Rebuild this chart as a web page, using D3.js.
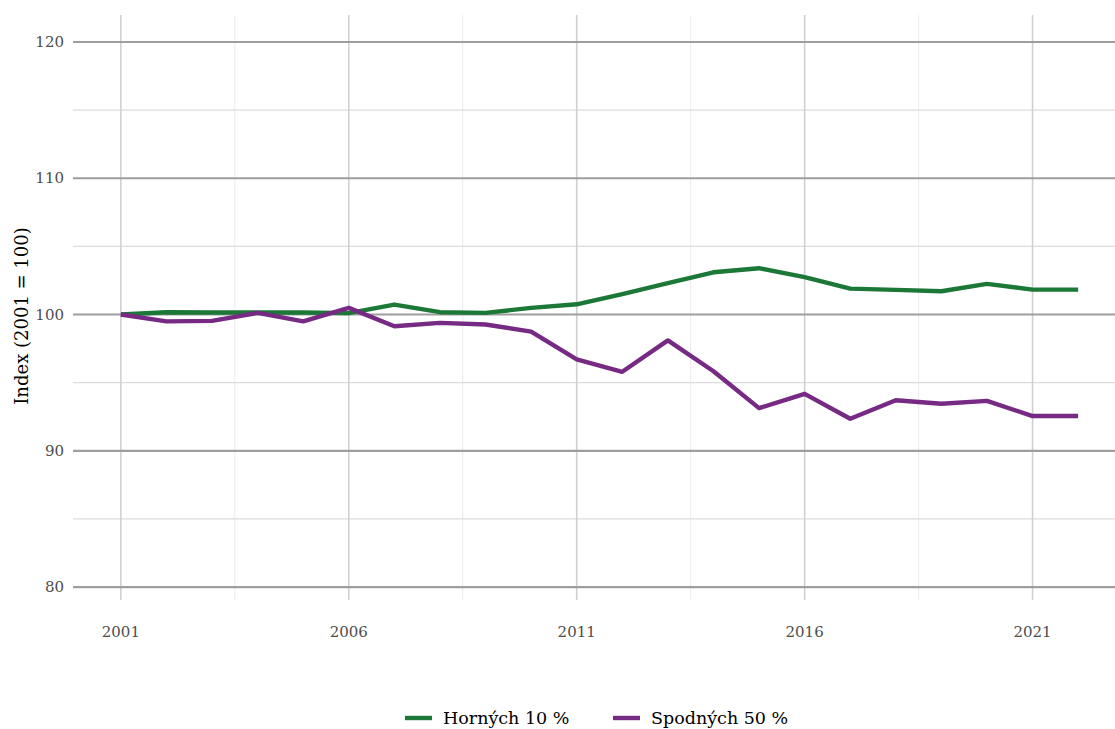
<!DOCTYPE html>
<html>
<head>
<meta charset="utf-8">
<script src="https://cdn.jsdelivr.net/npm/d3@7"></script>
<style>
  body { margin: 0; background: #fff; }
  svg { display: block; font-family: "DejaVu Serif", "Liberation Serif", serif; }
</style>
</head>
<body>
<svg id="chart" width="1115" height="729"></svg>
<script>
const years = d3.range(2001, 2023)

// Horných 10 %
const top10 = [100, 100.17, 100.15, 100.15, 100.15, 100.1, 100.73, 100.17, 100.12, 100.49, 100.75,
    101.5, 102.3, 103.1, 103.4, 102.75, 101.9, 101.81, 101.71, 102.25, 101.83, 101.83]
// Spodných 50 %
const bottom50 = [100, 99.5, 99.53, 100.12, 99.5, 100.49, 99.14, 99.39, 99.27, 98.75, 96.7,
    95.8, 98.1, 95.84, 93.13, 94.18, 92.35, 93.71, 93.45, 93.66, 92.55, 92.55]

const seriesNames = ["Horných 10 %", "Spodných 50 %"]
const seriesColors = ["#1b7837", "#762a83"]

const xMajor = [2001, 2006, 2011, 2016, 2021]
const xMinor = [2003.5, 2008.5, 2013.5, 2018.5]
const yMajor = [80, 90, 100, 110, 120]
const yMinor = [85, 95, 105, 115]

const panel = {left: 73, right: 1126, top: 15, bottom: 600}

const x = d3.scaleLinear()
    .domain([1999.95, 2023.05])
    .range([panel.left, panel.right])
const y = d3.scaleLinear()
    .domain([79.05, 121.98])
    .range([panel.bottom, panel.top])

const svg = d3.select("#chart")

// grid
let grid = svg.append("g")
grid.selectAll("line.xminor")
    .data(xMinor)
    .join("line")
        .attr("x1", d => x(d)).attr("x2", d => x(d))
        .attr("y1", panel.top).attr("y2", panel.bottom)
        .attr("stroke", "#ebebeb").attr("stroke-width", 1)
grid.selectAll("line.yminor")
    .data(yMinor)
    .join("line")
        .attr("x1", panel.left).attr("x2", panel.right)
        .attr("y1", d => y(d)).attr("y2", d => y(d))
        .attr("stroke", "#dcdcdc").attr("stroke-width", 1.2)
grid.selectAll("line.xmajor")
    .data(xMajor)
    .join("line")
        .attr("x1", d => x(d)).attr("x2", d => x(d))
        .attr("y1", panel.top).attr("y2", panel.bottom)
        .attr("stroke", "#d0d0d0").attr("stroke-width", 1.6)
grid.selectAll("line.ymajor")
    .data(yMajor)
    .join("line")
        .attr("x1", panel.left).attr("x2", panel.right)
        .attr("y1", d => y(d)).attr("y2", d => y(d))
        .attr("stroke", "#9e9e9e").attr("stroke-width", 2.2)

// axes text
svg.append("g")
    .selectAll("text")
    .data(yMajor)
    .join("text")
        .attr("x", 64)
        .attr("y", d => y(d))
        .attr("dy", "0.35em")
        .attr("text-anchor", "end")
        .attr("fill", "#4d4d4d")
        .attr("font-size", 15)
        .text(d => d)
svg.append("g")
    .selectAll("text")
    .data(xMajor)
    .join("text")
        .attr("x", d => x(d))
        .attr("y", 637)
        .attr("text-anchor", "middle")
        .attr("fill", "#4d4d4d")
        .attr("font-size", 15)
        .text(d => d)
svg.append("text")
    .attr("transform", "translate(28,316) rotate(-90)")
    .attr("text-anchor", "middle")
    .attr("font-size", 18)
    .attr("fill", "#000")
    .text("Index (2001 = 100)")

// lines
let line = d3.line()
    .x((d, i) => x(years[i]))
    .y(d => y(d))
svg.append("g")
    .selectAll("path")
    .data([top10, bottom50])
    .join("path")
        .attr("fill", "none")
        .attr("stroke", (d, i) => seriesColors[i])
        .attr("stroke-width", 4.4)
        .attr("stroke-linejoin", "round")
        .attr("d", line)

// legend
const legendX = [405, 613]
let legend = svg.append("g")
    .selectAll("g")
    .data(seriesNames)
    .join("g")
        .attr("transform", (d, i) => `translate(${legendX[i]},718)`)
legend.append("line")
    .attr("x1", 0).attr("x2", 27)
    .attr("stroke", (d, i) => seriesColors[i])
    .attr("stroke-width", 4.4)
legend.append("text")
    .attr("x", 38)
    .attr("dy", "0.35em")
    .attr("font-size", 17.5)
    .text(d => d)
</script>
</body>
</html>
